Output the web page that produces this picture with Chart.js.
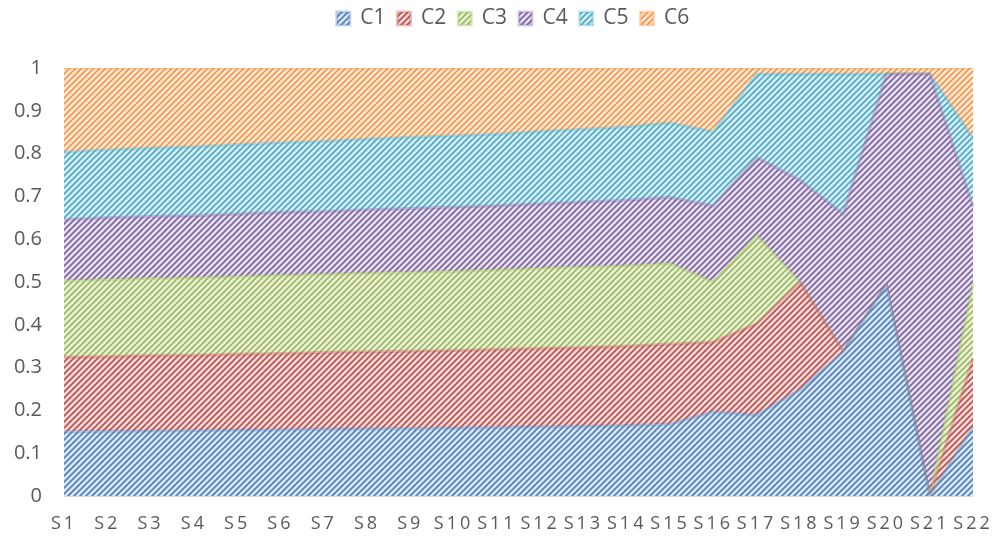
<!DOCTYPE html>
<html>
<head>
<meta charset="utf-8">
<script src="https://cdn.jsdelivr.net/npm/chart.js@4/dist/chart.umd.min.js"></script>
<style>
  html, body { margin: 0; padding: 0; background: #ffffff; }
  #wrap { width: 994px; height: 537px; }
</style>
</head>
<body>
<div id="wrap"><canvas id="chart" width="994" height="537"></canvas></div>
<script>
// Categories along the x axis
const categories = ['S1','S2','S3','S4','S5','S6','S7','S8','S9','S10','S11',
                    'S12','S13','S14','S15','S16','S17','S18','S19','S20','S21','S22'];

// Series names shown in the legend
const seriesNames = ['C1', 'C2', 'C3', 'C4', 'C5', 'C6'];

// Share of each series per category (stacked to 100%)
const c1 = [0.150,0.151,0.152,0.153,0.154,0.155,0.156,0.157,0.158,0.159,0.160,0.162,0.163,0.165,0.168,0.197,0.189,0.248,0.337,0.493,0.000,0.162];
const c2 = [0.174,0.175,0.176,0.176,0.177,0.178,0.179,0.180,0.180,0.181,0.182,0.183,0.184,0.185,0.187,0.163,0.214,0.252,0.000,0.000,0.000,0.160];
const c3 = [0.179,0.180,0.181,0.181,0.182,0.183,0.183,0.184,0.185,0.185,0.186,0.187,0.188,0.188,0.189,0.140,0.207,0.000,0.000,0.000,0.000,0.175];
const c4 = [0.143,0.144,0.144,0.145,0.146,0.147,0.147,0.148,0.149,0.150,0.150,0.151,0.152,0.153,0.154,0.178,0.181,0.238,0.322,0.493,0.986,0.179];
const c5 = [0.158,0.159,0.160,0.161,0.162,0.163,0.164,0.165,0.166,0.167,0.168,0.169,0.170,0.172,0.174,0.173,0.195,0.248,0.327,0.000,0.000,0.160];
const c6 = [0.196,0.191,0.187,0.184,0.179,0.174,0.171,0.166,0.162,0.158,0.154,0.148,0.143,0.137,0.128,0.149,0.014,0.014,0.014,0.014,0.014,0.164];

// Y axis tick values
const yTicks = [0, 0.1, 0.2, 0.3, 0.4, 0.5, 0.6, 0.7, 0.8, 0.9, 1];

const seriesValues = [c1, c2, c3, c4, c5, c6];
const seriesColors = ['#4F81BD', '#C0504D', '#9BBB59', '#8064A2', '#4BACC6', '#F79646'];

// Normalise every category so the stack totals exactly 1
const totals = categories.map((_, i) => seriesValues.reduce((s, arr) => s + arr[i], 0));

function hexToRgb(hex) {
  const n = parseInt(hex.slice(1), 16);
  return [(n >> 16) & 255, (n >> 8) & 255, n & 255];
}
function tint(hex, amount) {
  const [r, g, b] = hexToRgb(hex);
  const m = v => Math.round(v + (255 - v) * amount);
  return `rgb(${m(r)},${m(g)},${m(b)})`;
}
function rgba(hex, a) {
  const [r, g, b] = hexToRgb(hex);
  return `rgba(${r},${g},${b},${a})`;
}

// Upward diagonal stripe fill
function stripePattern(hex) {
  const s = 6;
  const cv = document.createElement('canvas');
  cv.width = s; cv.height = s;
  const g = cv.getContext('2d');
  g.fillStyle = tint(hex, 0.8);
  g.fillRect(0, 0, s, s);
  g.strokeStyle = hex;
  g.lineWidth = 1.7;
  g.beginPath();
  g.moveTo(-1, s + 1); g.lineTo(s + 1, -1);
  g.moveTo(-1, 1); g.lineTo(1, -1);
  g.moveTo(s - 1, s + 1); g.lineTo(s + 1, s - 1);
  g.stroke();
  return g.createPattern(cv, 'repeat');
}

// Wider letter spacing for the category labels
const xLabelSpacing = {
  id: 'xLabelSpacing',
  beforeDraw(chart) {
    const sc = chart.scales.x;
    if (sc && !sc._spacedLabels) {
      const orig = sc.drawLabels.bind(sc);
      sc.drawLabels = function (area) {
        const ctx = this.ctx;
        const prev = ctx.letterSpacing;
        ctx.letterSpacing = '3px';
        orig(area);
        ctx.letterSpacing = prev;
      };
      sc._spacedLabels = true;
    }
  }
};

// Extra room under the legend, and legend placed over the plot's centre
const legendPlacement = {
  id: 'legendPlacement',
  beforeLayout(chart) {
    const lg = chart.legend;
    if (lg && !lg._extraGap) {
      const fit = lg.fit.bind(lg);
      lg.fit = function () { fit(); this.height += 25; };
      lg._extraGap = true;
    }
  },
  beforeDraw(chart) {
    const lg = chart.legend;
    if (lg) {
      lg.left = 53;
      lg.top = -4;
    }
  }
};

const FONT = "'Open Sans', 'Noto Sans', sans-serif";
const TEXT = '#595959';

const datasets = seriesValues.map((arr, k) => ({
  label: seriesNames[k],
  data: arr.map((v, i) => v / totals[i]),
  backgroundColor: stripePattern(seriesColors[k]),
  borderColor: rgba(seriesColors[k], 0.35),
  borderWidth: 3,
  fill: k === 0 ? 'origin' : '-1',
  pointRadius: 0,
  pointHoverRadius: 0,
  tension: 0
}));

new Chart(document.getElementById('chart'), {
  type: 'line',
  data: { labels: categories, datasets },
  plugins: [xLabelSpacing, legendPlacement],
  options: {
    responsive: false,
    animation: false,
    devicePixelRatio: 1,
    layout: { padding: { top: 0, right: 21, bottom: 0, left: 0 } },
    plugins: {
      legend: {
        position: 'top',
        align: 'center',
        labels: {
          font: { family: FONT, size: 21 },
          color: TEXT,
          boxWidth: 13,
          boxHeight: 13,
          padding: 12
        }
      },
      tooltip: { enabled: false }
    },
    scales: {
      x: {
        offset: false,
        grid: { display: false, drawTicks: false },
        border: { display: false },
        afterFit(scale) {
          scale.height = 41;
          scale.paddingLeft = 0;
          scale.paddingRight = 0;
        },
        ticks: {
          font: { family: FONT, size: 18 },
          color: TEXT,
          padding: 17,
          maxRotation: 0,
          autoSkip: false
        }
      },
      y: {
        stacked: true,
        min: 0,
        max: 1,
        afterBuildTicks(scale) {
          scale.ticks = yTicks.map(v => ({ value: v }));
        },
        afterFit(scale) { scale.width = 64; },
        grid: { color: '#d9d9d9', drawTicks: false },
        border: { display: false },
        ticks: {
          font: { family: FONT, size: 20 },
          color: TEXT,
          padding: 22,
          callback: v => String(Math.round(v * 10) / 10)
        }
      }
    }
  }
});
</script>
</body>
</html>
